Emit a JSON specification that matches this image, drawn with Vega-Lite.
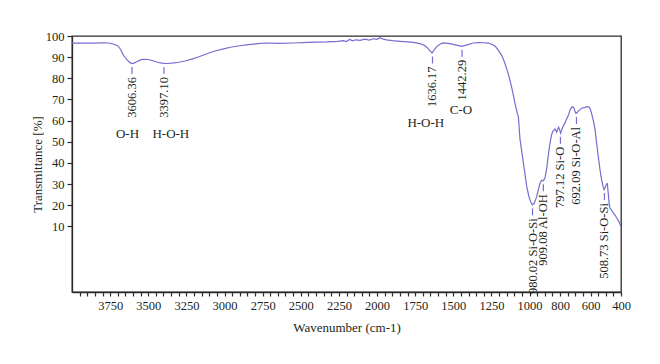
{
  "$schema": "https://vega.github.io/schema/vega-lite/v6.json",
  "width": 549,
  "height": 256,
  "autosize": {"type": "none"},
  "padding": {"left": 72, "top": 36, "right": 39, "bottom": 72},
  "background": "white",
  "config": {
    "font": "Liberation Serif",
    "view": {"stroke": "#2e2a2b", "strokeWidth": 1.3},
    "axis": {
      "domainColor": "#2e2a2b",
      "domainWidth": 1.3,
      "tickColor": "#2e2a2b",
      "tickWidth": 1.2,
      "grid": false,
      "labelFont": "Liberation Serif",
      "labelFontSize": 12.5,
      "labelColor": "#231f20",
      "titleFont": "Liberation Serif",
      "titleFontSize": 13,
      "titleFontWeight": "normal",
      "titleColor": "#231f20"
    }
  },
  "datasets": {
    "spectrum": [
      {"wn": 4000, "T": 96.6}, {"wn": 3950, "T": 96.6}, {"wn": 3900, "T": 96.7}, {"wn": 3850, "T": 96.6},
      {"wn": 3800, "T": 96.8}, {"wn": 3760, "T": 96.7}, {"wn": 3730, "T": 96.2}, {"wn": 3700, "T": 95.4},
      {"wn": 3680, "T": 93.5}, {"wn": 3663, "T": 90.9}, {"wn": 3640, "T": 88.8}, {"wn": 3620, "T": 87.4},
      {"wn": 3608, "T": 87.0}, {"wn": 3590, "T": 87.3}, {"wn": 3576, "T": 87.8}, {"wn": 3550, "T": 88.7},
      {"wn": 3530, "T": 89.0}, {"wn": 3500, "T": 88.9}, {"wn": 3470, "T": 88.3}, {"wn": 3440, "T": 87.6},
      {"wn": 3410, "T": 87.2}, {"wn": 3380, "T": 87.0}, {"wn": 3346, "T": 87.2}, {"wn": 3300, "T": 87.6},
      {"wn": 3259, "T": 88.2}, {"wn": 3210, "T": 89.2}, {"wn": 3172, "T": 90.1}, {"wn": 3120, "T": 91.5},
      {"wn": 3062, "T": 92.9}, {"wn": 3000, "T": 94.0}, {"wn": 2953, "T": 94.8}, {"wn": 2900, "T": 95.4},
      {"wn": 2844, "T": 95.9}, {"wn": 2780, "T": 96.4}, {"wn": 2734, "T": 96.7}, {"wn": 2650, "T": 96.5},
      {"wn": 2549, "T": 96.7}, {"wn": 2450, "T": 97.0}, {"wn": 2330, "T": 97.2}, {"wn": 2260, "T": 97.5},
      {"wn": 2221, "T": 97.8}, {"wn": 2200, "T": 97.4}, {"wn": 2180, "T": 98.4}, {"wn": 2160, "T": 97.7},
      {"wn": 2140, "T": 98.2}, {"wn": 2111, "T": 97.9}, {"wn": 2080, "T": 98.5}, {"wn": 2050, "T": 98.1},
      {"wn": 2026, "T": 98.7}, {"wn": 2000, "T": 98.4}, {"wn": 1980, "T": 99.2}, {"wn": 1960, "T": 98.5},
      {"wn": 1937, "T": 98.2}, {"wn": 1900, "T": 97.8}, {"wn": 1849, "T": 97.5}, {"wn": 1800, "T": 97.2},
      {"wn": 1762, "T": 97.0}, {"wn": 1718, "T": 96.4}, {"wn": 1690, "T": 95.6}, {"wn": 1672, "T": 94.6},
      {"wn": 1655, "T": 93.2}, {"wn": 1639, "T": 92.0}, {"wn": 1625, "T": 93.5}, {"wn": 1607, "T": 95.1},
      {"wn": 1580, "T": 96.4}, {"wn": 1563, "T": 96.7}, {"wn": 1521, "T": 96.4}, {"wn": 1480, "T": 95.7},
      {"wn": 1443, "T": 95.1}, {"wn": 1410, "T": 95.8}, {"wn": 1369, "T": 96.7}, {"wn": 1330, "T": 96.9},
      {"wn": 1303, "T": 96.8}, {"wn": 1270, "T": 96.6}, {"wn": 1248, "T": 96.1}, {"wn": 1225, "T": 95.2},
      {"wn": 1205, "T": 93.3}, {"wn": 1180, "T": 90.5}, {"wn": 1161, "T": 87.0}, {"wn": 1145, "T": 83.5},
      {"wn": 1128, "T": 79.1}, {"wn": 1110, "T": 73.5}, {"wn": 1095, "T": 68.1}, {"wn": 1080, "T": 63.5},
      {"wn": 1073, "T": 61.8}, {"wn": 1062, "T": 51.0}, {"wn": 1050, "T": 45.0}, {"wn": 1040, "T": 39.9},
      {"wn": 1028, "T": 34.0}, {"wn": 1018, "T": 28.8}, {"wn": 1005, "T": 24.5}, {"wn": 997, "T": 22.6},
      {"wn": 988, "T": 21.0}, {"wn": 980, "T": 20.2}, {"wn": 970, "T": 20.8}, {"wn": 962, "T": 22.2},
      {"wn": 953, "T": 24.1}, {"wn": 940, "T": 28.0}, {"wn": 931, "T": 30.4}, {"wn": 920, "T": 31.8},
      {"wn": 909, "T": 31.6}, {"wn": 898, "T": 33.0}, {"wn": 887, "T": 37.5}, {"wn": 876, "T": 44.0},
      {"wn": 866, "T": 49.3}, {"wn": 856, "T": 53.0}, {"wn": 848, "T": 54.8}, {"wn": 840, "T": 55.5},
      {"wn": 833, "T": 56.0}, {"wn": 822, "T": 54.5}, {"wn": 815, "T": 56.0}, {"wn": 809, "T": 56.9},
      {"wn": 802, "T": 55.5}, {"wn": 796, "T": 54.0}, {"wn": 790, "T": 55.5}, {"wn": 779, "T": 57.4},
      {"wn": 768, "T": 58.8}, {"wn": 757, "T": 60.6}, {"wn": 745, "T": 62.5}, {"wn": 734, "T": 65.0},
      {"wn": 722, "T": 66.4}, {"wn": 716, "T": 66.6}, {"wn": 708, "T": 65.8}, {"wn": 700, "T": 64.0},
      {"wn": 695, "T": 63.4}, {"wn": 688, "T": 63.8}, {"wn": 680, "T": 64.6}, {"wn": 669, "T": 65.2},
      {"wn": 655, "T": 66.0}, {"wn": 636, "T": 66.3}, {"wn": 620, "T": 66.6}, {"wn": 608, "T": 66.3},
      {"wn": 600, "T": 65.2}, {"wn": 593, "T": 63.4}, {"wn": 580, "T": 59.5}, {"wn": 570, "T": 55.6},
      {"wn": 560, "T": 49.5}, {"wn": 549, "T": 43.0}, {"wn": 538, "T": 37.0}, {"wn": 527, "T": 32.0},
      {"wn": 518, "T": 29.0}, {"wn": 511, "T": 27.4}, {"wn": 503, "T": 28.5}, {"wn": 496, "T": 30.0},
      {"wn": 490, "T": 30.2}, {"wn": 484, "T": 26.0}, {"wn": 478, "T": 21.0}, {"wn": 472, "T": 18.7},
      {"wn": 460, "T": 17.5}, {"wn": 450, "T": 16.3}, {"wn": 440, "T": 15.5}, {"wn": 428, "T": 14.0},
      {"wn": 415, "T": 12.5}, {"wn": 402, "T": 10.0}
    ],
    "peaks": [
      {"wn": 3606.36, "T": 87.0, "label": "3606.36"},
      {"wn": 3397.10, "T": 87.0, "label": "3397.10"},
      {"wn": 1636.17, "T": 92.0, "label": "1636.17"},
      {"wn": 1442.29, "T": 95.1, "label": "1442.29"},
      {"wn": 980.02, "T": 20.2, "label": "980.02 Si-O-Si"},
      {"wn": 909.08, "T": 31.6, "label": "909.08 Al-OH"},
      {"wn": 797.12, "T": 54.0, "label": "797.12  Si-O"},
      {"wn": 692.09, "T": 63.4, "label": "692.09  Si-O-Al"},
      {"wn": 508.73, "T": 27.4, "label": "508.73 Si-O-Si"}
    ],
    "groups": [
      {"wn": 3636, "T": 53.6, "label": "O-H"},
      {"wn": 3352, "T": 53.6, "label": "H-O-H"},
      {"wn": 1680, "T": 58.7, "label": "H-O-H"},
      {"wn": 1450, "T": 65.2, "label": "C-O"}
    ]
  },
  "layer": [
    {
      "data": {"name": "spectrum"},
      "mark": {"type": "line", "color": "#776cd0", "strokeWidth": 1.2},
      "encoding": {
        "x": {
          "field": "wn", "type": "quantitative",
          "scale": {"domain": [400, 4000], "reverse": true, "nice": false, "zero": false},
          "axis": {
            "title": "Wavenumber (cm-1)",
            "values": [400,450,500,550,600,650,700,750,800,850,900,950,1000,1050,1100,1150,1200,1250,1300,1350,1400,1450,1500,1550,1600,1650,1700,1750,1800,1850,1900,1950,2000,2050,2100,2150,2200,2250,2300,2350,2400,2450,2500,2550,2600,2650,2700,2750,2800,2850,2900,2950,3000,3050,3100,3150,3200,3250,3300,3350,3400,3450,3500,3550,3600,3650,3700,3750,3800,3850,3900,3950],
            "tickCount": 200,
            "format": "d",
            "labelExpr": "indexof([3750,3500,3250,3000,2750,2500,2250,2000,1750,1500,1250,1000,800,600,400], datum.value) >= 0 ? datum.label : ''",
            "labelOverlap": false,
            "labelFlush": false,
            "tickSize": 4,
            "labelPadding": 3,
            "titleY": 35,
            "titleBaseline": "middle"
          }
        },
        "y": {
          "field": "T", "type": "quantitative",
          "scale": {"domain": [-21, 100], "nice": false, "zero": false},
          "axis": {
            "title": "Transmittance [%]",
            "values": [10, 20, 30, 40, 50, 60, 70, 80, 90, 100],
            "tickCount": 50,
            "labelOverlap": false,
            "tickSize": 5,
            "labelPadding": 3,
            "titleX": -35,
            "titleBaseline": "middle"
          }
        }
      }
    },
    {
      "data": {"name": "peaks"},
      "mark": {"type": "rule", "color": "#776cd0", "strokeWidth": 1.2, "yOffset": 3.5, "y2Offset": 10.5},
      "encoding": {
        "x": {"field": "wn", "type": "quantitative"},
        "y": {"field": "T", "type": "quantitative"},
        "y2": {"field": "T"}
      }
    },
    {
      "data": {"name": "peaks"},
      "mark": {"type": "text", "angle": 270, "align": "right", "baseline": "middle", "yOffset": 13.5, "fontSize": 12.5, "font": "Liberation Serif", "color": "#231f20"},
      "encoding": {
        "x": {"field": "wn", "type": "quantitative"},
        "y": {"field": "T", "type": "quantitative"},
        "text": {"field": "label"}
      }
    },
    {
      "data": {"name": "groups"},
      "mark": {"type": "text", "align": "center", "baseline": "middle", "fontSize": 13, "font": "Liberation Serif", "color": "#231f20"},
      "encoding": {
        "x": {"field": "wn", "type": "quantitative"},
        "y": {"field": "T", "type": "quantitative"},
        "text": {"field": "label"}
      }
    }
  ]
}
